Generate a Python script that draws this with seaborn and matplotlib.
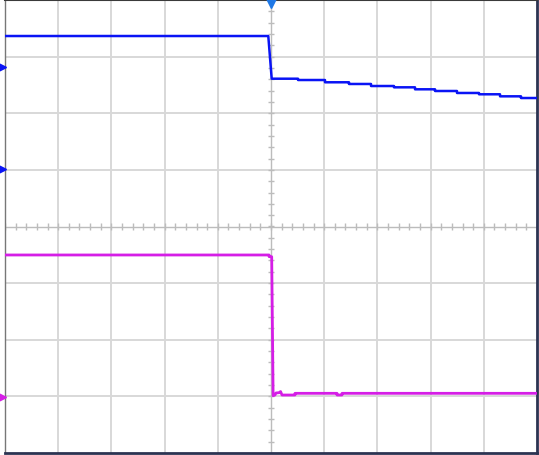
import numpy as np
import pandas as pd
import matplotlib
matplotlib.use("Agg")
import matplotlib.pyplot as plt
import seaborn as sns

# Screen units: 10 horizontal divisions, 8 vertical divisions
X_DIVS = 10
Y_DIVS = 8

# Channel B (blue): flat level, a fast fall at the trigger, then a slow stepped droop
blue_pre_level = 3.364
blue_fall_start = -0.051
blue_step_edges = [0.013, 0.508, 1.015, 1.466, 1.880, 2.312, 2.707,
                   3.083, 3.496, 3.910, 4.305, 4.699, 5.0]
blue_step_levels = [2.610, 2.587, 2.547, 2.517, 2.481, 2.458,
                    2.423, 2.393, 2.358, 2.335, 2.299, 2.269]

# Channel A (magenta): high level, sharp fall, small ringing, then a low level
mag_time = [-5.0, -0.035, -0.035, 0.013, 0.040, 0.075, 0.094, 0.150,
            0.180, 0.207, 0.451, 0.451, 1.241, 1.241, 1.335, 1.335, 5.0]
mag_volt = [-0.503, -0.503, -0.533, -0.533, -2.988, -2.976, -2.940, -2.935,
            -2.915, -2.976, -2.976, -2.946, -2.946, -2.976, -2.976, -2.946, -2.946]

# Reference markers on the left edge and trigger position on top
blue_ref_levels = [2.817, 1.015]
mag_ref_level = -3.011
trigger_time = 0.0

BLUE = "#0a14f5"
MAGENTA = "#d51ee6"
MARKER_BLUE = "#1f78e6"


def step_trace(t0, level0, fall_start, edges, levels):
    t = [t0, fall_start]
    v = [level0, level0]
    for i, lv in enumerate(levels):
        t += [edges[i], edges[i + 1]]
        v += [lv, lv]
    return pd.DataFrame({"time": t, "volt": v})


blue_df = step_trace(-5.0, blue_pre_level, blue_fall_start,
                     blue_step_edges, blue_step_levels)
mag_df = pd.DataFrame({"time": mag_time, "volt": mag_volt})

sns.set_style("white")
fig = plt.figure(figsize=(5.39, 4.56), dpi=100)
ax = fig.add_axes([5 / 539, 2 / 456, 532 / 539, 453 / 456])

ax.set_xlim(-X_DIVS / 2, X_DIVS / 2)
ax.set_ylim(-Y_DIVS / 2, Y_DIVS / 2)

# Graticule
grid_c = "#d8d8d8"
for gx in range(-4, 5):
    if gx != 0:
        ax.axvline(gx, color=grid_c, lw=1.4, zorder=1)
for gy in range(-3, 4):
    if gy != 0:
        ax.axhline(gy, color=grid_c, lw=1.4, zorder=1)
center_c = "#bcbcbc"
ax.axvline(0, color=center_c, lw=1.0, zorder=1)
ax.axhline(0, color=center_c, lw=1.0, zorder=1)
minor_x = np.arange(-5, 5.001, 0.2)
minor_y = np.arange(-4, 4.001, 0.2)
ax.vlines(minor_x, -0.055, 0.055, color=center_c, lw=1.0, zorder=1)
ax.hlines(minor_y, -0.06, 0.06, color=center_c, lw=1.0, zorder=1)

# Traces
sns.lineplot(data=blue_df, x="time", y="volt", ax=ax, estimator=None,
             sort=False, color=BLUE, lw=1.8, zorder=3)
sns.lineplot(data=mag_df, x="time", y="volt", ax=ax, estimator=None,
             sort=False, color=MAGENTA, lw=2.0, zorder=3)

# Edge markers
ax.plot([-5.06] * len(blue_ref_levels), blue_ref_levels, ">", color=BLUE,
        ms=6, clip_on=False, zorder=5)
ax.plot([-5.06], [mag_ref_level], ">", color=MAGENTA, ms=6,
        clip_on=False, zorder=5)
ax.plot([trigger_time], [3.955], "v", color=MARKER_BLUE, ms=7,
        clip_on=False, zorder=5)

ax.set_xticks([])
ax.set_yticks([])
ax.set_xlabel("")
ax.set_ylabel("")

for side in ["left", "top", "right", "bottom"]:
    ax.spines[side].set_visible(True)
ax.spines["left"].set_color("#777777")
ax.spines["left"].set_linewidth(1.0)
ax.spines["top"].set_color("#3a3a3a")
ax.spines["top"].set_linewidth(1.5)
ax.spines["right"].set_color("#2c3352")
ax.spines["right"].set_linewidth(2.0)
ax.spines["bottom"].set_color("#2c3352")
ax.spines["bottom"].set_linewidth(2.0)

fig.savefig("out.png", dpi=100)
